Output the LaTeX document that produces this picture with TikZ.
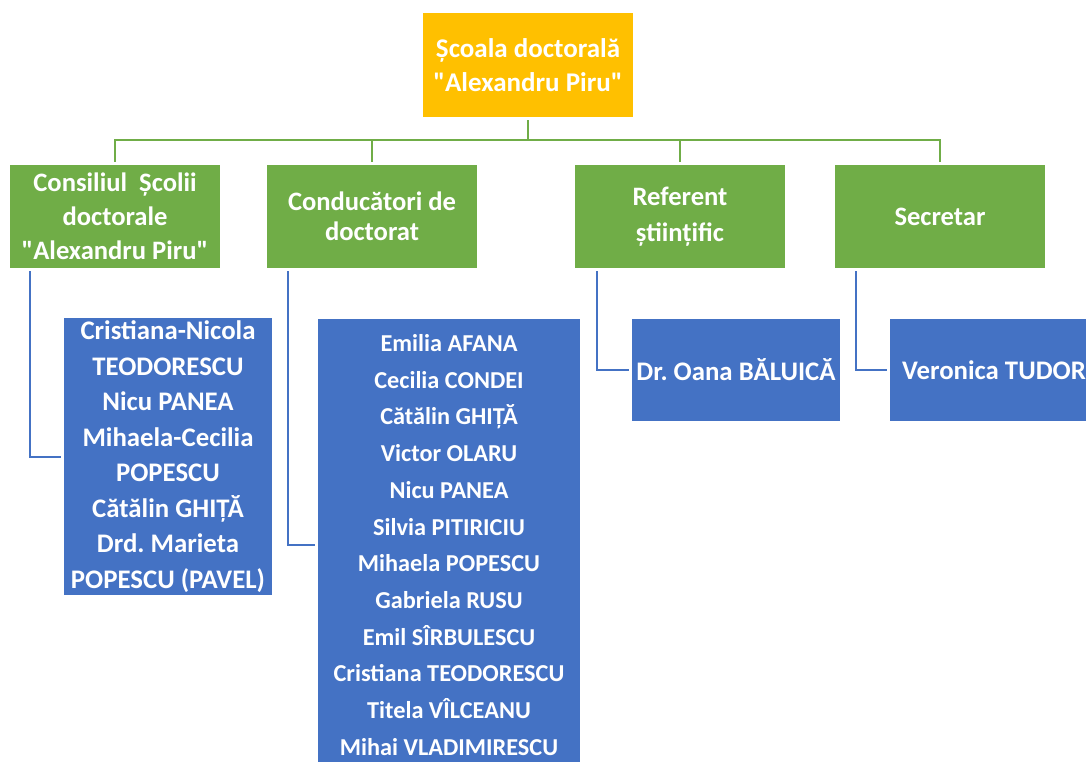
\documentclass[tikz,border=0pt]{standalone}
\usepackage{fontspec}
\setmainfont{Carlito}[Ligatures=TeXOff]
\usetikzlibrary{positioning}
\frenchspacing

\definecolor{headyellow}{HTML}{FFC000}
\definecolor{rolegreen}{HTML}{70AD47}
\definecolor{namesblue}{HTML}{4472C4}

\begin{document}
\begin{tikzpicture}[x = 1pt, y = -1pt, inner sep = 0pt, outer sep = 3pt,
  box/.style = {rectangle, align = center, text = white, font = \bfseries},
  head/.style = {box, fill = headyellow, minimum width = 210pt, minimum height = 104pt,
    font = \bfseries\fontsize{27}{34}\selectfont},
  role/.style = {box, fill = rolegreen, minimum width = 210pt, minimum height = 103pt,
    font = \bfseries\fontsize{26.6}{34}\selectfont},
  names/.style = {box, fill = namesblue, minimum width = 208pt,
    font = \bfseries\fontsize{26.8}{35.5}\selectfont},
  tie/.style = {rolegreen, line width = 2pt},
  link/.style = {namesblue, line width = 2pt}]
  \clip (0,0) rectangle (1086,761);
  \node[head] (school) at (528,65) {Școala doctorală\\"Alexandru Piru"};
  \node[role] (council) at (115,216.5) {Consiliul~ Școlii\\doctorale\\"Alexandru Piru"};
  \node[role, font = \bfseries\fontsize{26.6}{30}\selectfont] (advisors) at (372,216.5)
    {Conducători de\\doctorat};
  \node[role, font = \bfseries\fontsize{26.6}{36}\selectfont] (referent) at (680,216.5)
    {Referent\\științific};
  \node[role] (secretary) at (940,216.5) {Secretar};
  \node[names, minimum height = 277pt] (members) [anchor = north] at (168,315)
    {Cristiana-Nicola\\TEODORESCU\\Nicu PANEA\\Mihaela-Cecilia\\POPESCU\\Cătălin GHIȚĂ\\Drd. Marieta\\POPESCU (PAVEL)};
  \node[names, minimum width = 262pt, minimum height = 452pt,
    font = \bfseries\fontsize{24.3}{36.7}\selectfont] (supervisors) [anchor = north] at (449,316)
    {Emilia AFANA\\Cecilia CONDEI\\Cătălin GHIȚĂ\\Victor OLARU\\Nicu PANEA\\Silvia PITIRICIU\\Mihaela POPESCU\\Gabriela RUSU\\Emil SÎRBULESCU\\Cristiana TEODORESCU\\Titela VÎLCEANU\\Mihai VLADIMIRESCU};
  \node[names, minimum height = 102pt] (baluica) [anchor = north] at (736,316) {Dr. Oana BĂLUICĂ};
  \node[names, minimum height = 102pt] (tudor) [anchor = north] at (994,316) {Veronica TUDOR};
  % green tree from the school down to the roles
  \coordinate (bus) at (528,140);
  \draw[tie] (school.south) -- (bus);
  \foreach \role in {council, advisors, referent, secretary}
    \draw[tie] (bus) -| (\role.north);
  % blue links from each role to its people
  \draw[link] ([xshift = 23pt]council.south west) |- (members.west);
  \draw[link] ([xshift = 24pt]advisors.south west) |- (supervisors.west);
  \draw[link] ([xshift = 25pt]referent.south west) |- (baluica.west);
  \draw[link] ([xshift = 24pt]secretary.south west) |- (tudor.west);
\end{tikzpicture}
\end{document}
